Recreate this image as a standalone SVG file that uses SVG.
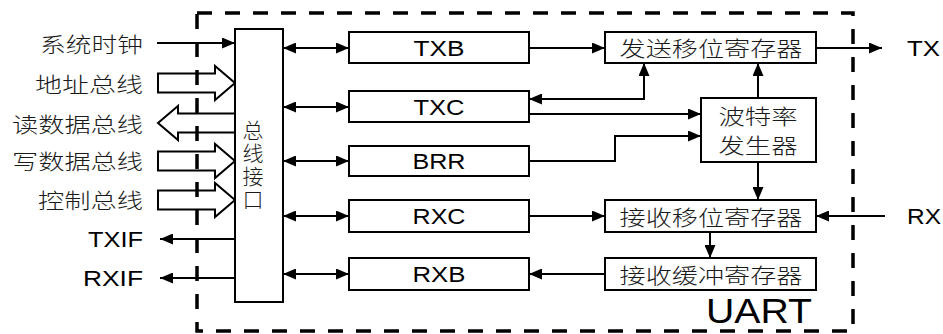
<svg xmlns="http://www.w3.org/2000/svg" width="943" height="334" viewBox="0 0 943 334">
<style>
.box{fill:#fff;stroke:#000;stroke-width:2}
.ln{fill:none;stroke:#000;stroke-width:2}
.hol{fill:none;stroke:#000;stroke-width:2}
.dash{fill:none;stroke:#000;stroke-width:3.5;stroke-dasharray:15,13}
.cn{font-family:"Noto Sans CJK SC","Noto Sans",sans-serif;font-size:21px;font-weight:300;fill:#1a1a1a}
.vt{font-family:"Noto Sans CJK SC","Noto Sans",sans-serif;font-size:21px;font-weight:300;fill:#1a1a1a;writing-mode:vertical-rl;letter-spacing:2px}
.en{font-family:"Liberation Sans",Arial,sans-serif;font-size:22px;fill:#000}
</style>
<defs>
<marker id="ah" markerUnits="userSpaceOnUse" markerWidth="13" markerHeight="11" refX="13" refY="5.5" orient="auto-start-reverse">
<path d="M0,0 L13,5.5 L0,11 z" fill="#000"/>
</marker>
</defs>
<rect class="dash" x="197" y="13" width="656" height="318"/>
<g id="labels-left">
<text class="cn" x="143" y="43" text-anchor="end" dominant-baseline="central" textLength="103" lengthAdjust="spacingAndGlyphs">系统时钟</text>
<text class="cn" x="143" y="83" text-anchor="end" dominant-baseline="central" textLength="108" lengthAdjust="spacingAndGlyphs">地址总线</text>
<text class="cn" x="143" y="123" text-anchor="end" dominant-baseline="central" textLength="131" lengthAdjust="spacingAndGlyphs">读数据总线</text>
<text class="cn" x="143" y="160" text-anchor="end" dominant-baseline="central" textLength="131" lengthAdjust="spacingAndGlyphs">写数据总线</text>
<text class="cn" x="143" y="199" text-anchor="end" dominant-baseline="central" textLength="105" lengthAdjust="spacingAndGlyphs">控制总线</text>
<text class="en" x="143" y="239" text-anchor="end" dominant-baseline="central" textLength="55" lengthAdjust="spacingAndGlyphs">TXIF</text>
<text class="en" x="143" y="278" text-anchor="end" dominant-baseline="central" textLength="60" lengthAdjust="spacingAndGlyphs">RXIF</text>
</g>
<g id="bus-arrows">
<polygon class="hol" points="158,73.5 215,73.5 215,66 235,83 215,100 215,92.5 158,92.5"/>
<polygon class="hol" points="235,113.5 178,113.5 178,106 158,123 178,140 178,132.5 235,132.5"/>
<polygon class="hol" points="158,151.5 215,151.5 215,144 235,161 215,178 215,170.5 158,170.5"/>
<polygon class="hol" points="158,190.5 215,190.5 215,183 235,200 215,217 215,209.5 158,209.5"/>
</g>
<g id="bus-if">
<rect class="box" x="235" y="29" width="48" height="273"/>
<text class="vt" x="253" y="166" text-anchor="middle">总线接口</text>
</g>
<g id="txb"><rect class="box" x="349" y="32" width="180" height="31"/><text class="en" x="439" y="48" text-anchor="middle" dominant-baseline="central" textLength="51" lengthAdjust="spacingAndGlyphs">TXB</text></g>
<g id="txc"><rect class="box" x="349" y="91" width="180" height="31"/><text class="en" x="439" y="107" text-anchor="middle" dominant-baseline="central" textLength="51" lengthAdjust="spacingAndGlyphs">TXC</text></g>
<g id="brr"><rect class="box" x="349" y="146" width="180" height="30"/><text class="en" x="439" y="161" text-anchor="middle" dominant-baseline="central" textLength="53" lengthAdjust="spacingAndGlyphs">BRR</text></g>
<g id="rxc"><rect class="box" x="349" y="200" width="180" height="32"/><text class="en" x="439" y="216" text-anchor="middle" dominant-baseline="central" textLength="53" lengthAdjust="spacingAndGlyphs">RXC</text></g>
<g id="rxb"><rect class="box" x="349" y="258" width="180" height="32"/><text class="en" x="439" y="274" text-anchor="middle" dominant-baseline="central" textLength="53" lengthAdjust="spacingAndGlyphs">RXB</text></g>
<g id="tsr"><rect class="box" x="605" y="32" width="211" height="31"/><text class="cn" x="711" y="47" text-anchor="middle" dominant-baseline="central" textLength="183" lengthAdjust="spacingAndGlyphs">发送移位寄存器</text></g>
<g id="baud"><rect class="box" x="701" y="98" width="115" height="64"/><text class="cn" x="758" y="115" text-anchor="middle" dominant-baseline="central" textLength="79" lengthAdjust="spacingAndGlyphs">波特率</text><text class="cn" x="758" y="144" text-anchor="middle" dominant-baseline="central" textLength="79" lengthAdjust="spacingAndGlyphs">发生器</text></g>
<g id="rsr"><rect class="box" x="605" y="200" width="211" height="32"/><text class="cn" x="711" y="216" text-anchor="middle" dominant-baseline="central" textLength="183" lengthAdjust="spacingAndGlyphs">接收移位寄存器</text></g>
<g id="rbr"><rect class="box" x="605" y="258" width="211" height="32"/><text class="cn" x="711" y="274" text-anchor="middle" dominant-baseline="central" textLength="183" lengthAdjust="spacingAndGlyphs">接收缓冲寄存器</text></g>
<g id="labels-right">
<text class="en" x="907" y="48" dominant-baseline="central" textLength="33" lengthAdjust="spacingAndGlyphs">TX</text>
<text class="en" x="907" y="216" dominant-baseline="central" textLength="34" lengthAdjust="spacingAndGlyphs">RX</text>
<text x="706" y="323" font-family="Liberation Sans,Arial,sans-serif" font-size="35" textLength="106" lengthAdjust="spacingAndGlyphs">UART</text>
</g>
<g id="connectors">
<path class="ln" d="M157,43 H235" marker-end="url(#ah)"/>
<path class="ln" d="M235,239 H160" marker-end="url(#ah)"/>
<path class="ln" d="M235,278 H160" marker-end="url(#ah)"/>
<path class="ln" d="M283,48 H349" marker-start="url(#ah)" marker-end="url(#ah)"/>
<path class="ln" d="M283,107 H349" marker-start="url(#ah)" marker-end="url(#ah)"/>
<path class="ln" d="M283,161 H349" marker-start="url(#ah)" marker-end="url(#ah)"/>
<path class="ln" d="M283,216 H349" marker-start="url(#ah)" marker-end="url(#ah)"/>
<path class="ln" d="M283,274 H349" marker-start="url(#ah)" marker-end="url(#ah)"/>
<path class="ln" d="M529,48 H605" marker-end="url(#ah)"/>
<path class="ln" d="M816,48 H882" marker-end="url(#ah)"/>
<path class="ln" d="M644,63 V99 H529" marker-start="url(#ah)" marker-end="url(#ah)"/>
<path class="ln" d="M529,114 H701" marker-end="url(#ah)"/>
<path class="ln" d="M529,161 H615 V136 H701" marker-end="url(#ah)"/>
<path class="ln" d="M758,98 V63" marker-end="url(#ah)"/>
<path class="ln" d="M758,162 V200" marker-end="url(#ah)"/>
<path class="ln" d="M885,216 H816" marker-end="url(#ah)"/>
<path class="ln" d="M529,216 H605" marker-end="url(#ah)"/>
<path class="ln" d="M710,232 V258" marker-end="url(#ah)"/>
<path class="ln" d="M605,274 H529" marker-end="url(#ah)"/>
</g>
</svg>
